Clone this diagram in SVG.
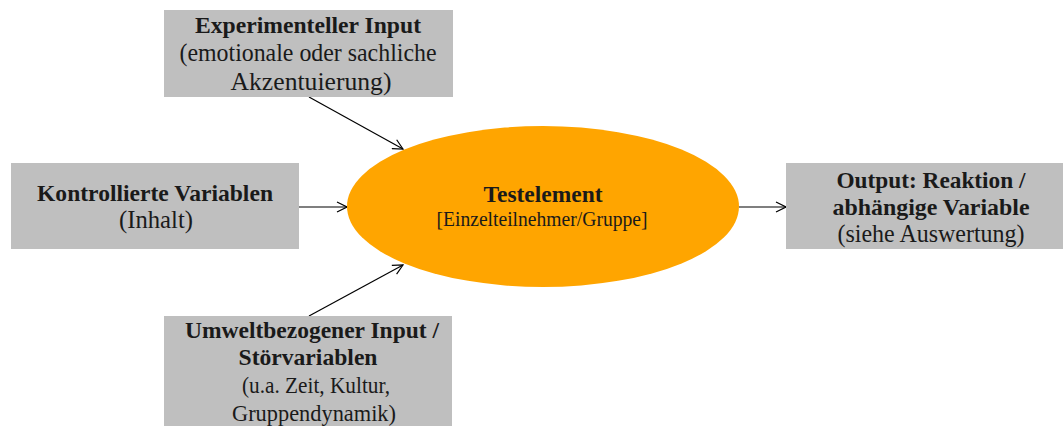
<svg xmlns="http://www.w3.org/2000/svg" width="1063" height="426" viewBox="0 0 1063 426">
  <style>
    .box { fill: #bfbfbf; }
    .core { fill: #ffa500; }
    text { font-family: "Liberation Serif", "Times New Roman", serif; fill: #1a1a1a; text-anchor: middle; }
    .b { font-weight: bold; font-size: 24px; }
    .r { font-size: 26px; }
    .t { font-size: 24px; }
    .s { font-size: 21px; }
    .edge { stroke: #000; stroke-width: 1.2; fill: none; marker-end: url(#arr); }
  </style>
  <defs>
    <marker id="arr" viewBox="0 0 12 12" refX="11" refY="6" markerWidth="12" markerHeight="12" markerUnits="userSpaceOnUse" orient="auto">
      <path d="M1,1 L11,6 L1,11" fill="none" stroke="#000" stroke-width="1.2"/>
    </marker>
  </defs>

  <rect width="1063" height="426" fill="#fff"/>

  <!-- connectors -->
  <g id="connectors">
    <line class="edge" x1="309" y1="97" x2="403" y2="149"/>
    <line class="edge" x1="299" y1="207" x2="347" y2="207"/>
    <line class="edge" x1="309" y1="316" x2="403" y2="265"/>
    <line class="edge" x1="739" y1="207" x2="786" y2="207"/>
  </g>

  <!-- experimental input -->
  <g id="experimenteller-input">
    <rect class="box" x="164" y="10" width="289" height="87"/>
    <text class="b" x="308" y="33" textLength="226" lengthAdjust="spacingAndGlyphs">Experimenteller Input</text>
    <text class="r" x="308" y="61" textLength="257" lengthAdjust="spacingAndGlyphs">(emotionale oder sachliche</text>
    <text class="r" x="311" y="90" textLength="161" lengthAdjust="spacingAndGlyphs">Akzentuierung)</text>
  </g>

  <!-- controlled variables -->
  <g id="kontrollierte-variablen">
    <rect class="box" x="11" y="163" width="288" height="86"/>
    <text class="b" x="155" y="201" textLength="236" lengthAdjust="spacingAndGlyphs">Kontrollierte Variablen</text>
    <text class="r" x="156" y="228" textLength="74" lengthAdjust="spacingAndGlyphs">(Inhalt)</text>
  </g>

  <!-- test element -->
  <g id="testelement">
    <ellipse class="core" cx="543" cy="206.5" rx="196" ry="80.5"/>
    <text class="b" x="543" y="202" textLength="119" lengthAdjust="spacingAndGlyphs">Testelement</text>
    <text class="s" x="542" y="226" textLength="211" lengthAdjust="spacingAndGlyphs">[Einzelteilnehmer/Gruppe]</text>
  </g>

  <!-- output -->
  <g id="output">
    <rect class="box" x="786" y="163" width="277" height="86"/>
    <text class="b" x="931" y="188" textLength="189" lengthAdjust="spacingAndGlyphs">Output: Reaktion /</text>
    <text class="b" x="931" y="215" textLength="197" lengthAdjust="spacingAndGlyphs">abhängige Variable</text>
    <text class="r" x="931" y="242" textLength="187" lengthAdjust="spacingAndGlyphs">(siehe Auswertung)</text>
  </g>

  <!-- environmental input -->
  <g id="umweltbezogener-input">
    <rect class="box" x="164" y="316" width="288" height="110"/>
    <text class="b" x="312" y="338" textLength="254" lengthAdjust="spacingAndGlyphs">Umweltbezogener Input /</text>
    <text class="b" x="308" y="365" textLength="139" lengthAdjust="spacingAndGlyphs">Störvariablen</text>
    <text class="t" x="316" y="393" textLength="148" lengthAdjust="spacingAndGlyphs">(u.a. Zeit, Kultur,</text>
    <text class="t" x="314" y="421" textLength="164" lengthAdjust="spacingAndGlyphs">Gruppendynamik)</text>
  </g>
</svg>
